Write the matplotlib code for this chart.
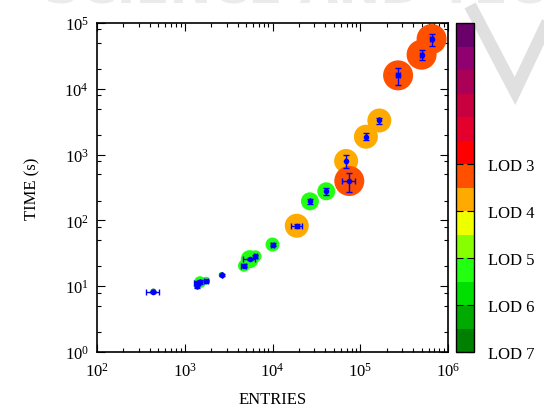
import matplotlib
matplotlib.use("Agg")
import matplotlib.pyplot as plt
import numpy as np
from matplotlib.colors import ListedColormap, BoundaryNorm
from matplotlib.cm import ScalarMappable
from matplotlib.lines import Line2D
from matplotlib.ticker import LogLocator, NullFormatter

plt.rcParams['font.family'] = ['Liberation Serif', 'DejaVu Serif']
plt.rcParams['mathtext.fontset'] = 'custom'
plt.rcParams['mathtext.rm'] = 'Liberation Serif'
plt.rcParams['font.size'] = 12

# data
entries = [6.5e5, 5.0e5, 2.7e5, 1.65e5, 1.16e5, 6.9e4, 7.5e4, 4.1e4, 2.67e4, 1.89e4,
           1.0e4, 6.4e3, 5.5e3, 4.73e3, 2.64e3, 1.75e3, 1.49e3, 1.39e3, 1.37e3, 439]
times = [5.7e4, 3.3e4, 1.6e4, 3.3e3, 1.87e3, 800, 397, 277, 195, 83,
         43, 28.5, 25.8, 20.5, 14.8, 12.1, 11.5, 11.2, 10.0, 8.3]
entries_err = [2e4, 1.5e4, 1.5e4, 0, 0, 0, 1.3e4, 0, 0, 2.8e3,
               300, 300, 850, 300, 0, 100, 0, 100, 0, 75]
times_err = [1.2e4, 6e3, 4.5e3, 350, 230, 170, 130, 30, 20, 5,
             2, 1.5, 1, 1, 0.5, 0.5, 0.8, 0.8, 0.6, 0.3]
# bubble radius (px) and level value on the colour scale
radius = [15, 15, 15, 12, 12, 12, 15, 9, 9, 12, 7, 6, 9, 6, 3, 4, 6, 3, 3, 3]
level = [7.5, 7.5, 7.5, 6.5, 6.5, 6.5, 7.5, 3.5, 3.5, 6.5,
         3.5, 3.5, 3.5, 3.5, 1.5, 3.5, 3.5, 3.5, 3.5, 0.5]

band_colors = ['#007f00', '#00aa00', '#00e000', '#22ff10', '#88ff00', '#eeff00', '#ffaa00',
               '#ff5000', '#ff0000', '#e4002c', '#c80040', '#aa0058', '#900070', '#6a006a']
lod_ticks = [0, 2, 4, 6, 8]
lod_labels = ['LOD 7', 'LOD 6', 'LOD 5', 'LOD 4', 'LOD 3']

cmap = ListedColormap(band_colors)
norm = BoundaryNorm(np.arange(0, 15), cmap.N)

fig = plt.figure(figsize=(5.44, 4.14), dpi=100)

# faint watermark of the source page
fig.text(0.08, 1 - 4 / 414, 'SCIENCE AND TECHNOLOGY', fontsize=36, weight='bold',
         family='DejaVu Sans', color='#ebebeb', va='baseline', ha='left', zorder=0)
fig.add_artist(Line2D([473 / 544, 515 / 544, 550 / 544],
                      [1 - 12 / 414, 1 - 92 / 414, 1 - 18 / 414],
                      color='#e0e0e0', lw=9, solid_joinstyle='miter', zorder=0))

ax = fig.add_axes([97 / 544, 1 - 353 / 414, 351 / 544, 329 / 414])
ax.set_xscale('log')
ax.set_yscale('log')
ax.set_xlim(1e2, 1e6)
ax.set_ylim(1e0, 1e5)

s = [(2 * r * 0.72) ** 2 for r in radius]
ax.scatter(entries, times, s=s, c=level, cmap=cmap, norm=norm, edgecolors='none', zorder=2)
ax.errorbar(entries, times, xerr=entries_err, yerr=times_err, fmt='o', color='blue',
            ms=3, elinewidth=1, capsize=2.5, capthick=1, zorder=3)

ax.xaxis.set_minor_locator(LogLocator(base=10, subs=np.arange(2, 10), numticks=20))
ax.yaxis.set_minor_locator(LogLocator(base=10, subs=[2, 5, 8], numticks=20))
ax.xaxis.set_minor_formatter(NullFormatter())
ax.yaxis.set_minor_formatter(NullFormatter())
ax.tick_params(which='both', direction='in', top=True, right=True, labelsize=12)
ax.tick_params(which='major', length=6, width=0.8)
ax.tick_params(which='minor', length=3, width=0.8)
ax.tick_params(axis='x', pad=7)
ax.tick_params(axis='y', pad=6)
for sp in ax.spines.values():
    sp.set_linewidth(1.2)

ax.set_xlabel('ENTRIES', fontsize=12, labelpad=8)
ax.set_ylabel('TIME (s)', fontsize=12, labelpad=17)

cax = fig.add_axes([456 / 544, 1 - 353 / 414, 18 / 544, 329 / 414])
cb = fig.colorbar(ScalarMappable(norm=norm, cmap=cmap), cax=cax, ticks=lod_ticks)
cb.set_ticklabels(lod_labels)
cb.outline.set_linewidth(1)
cax.tick_params(direction='in', length=5, width=0.8, left=True, right=True,
                labelsize=12, pad=10)
cax.minorticks_off()

fig.savefig('out.png', dpi=100)
